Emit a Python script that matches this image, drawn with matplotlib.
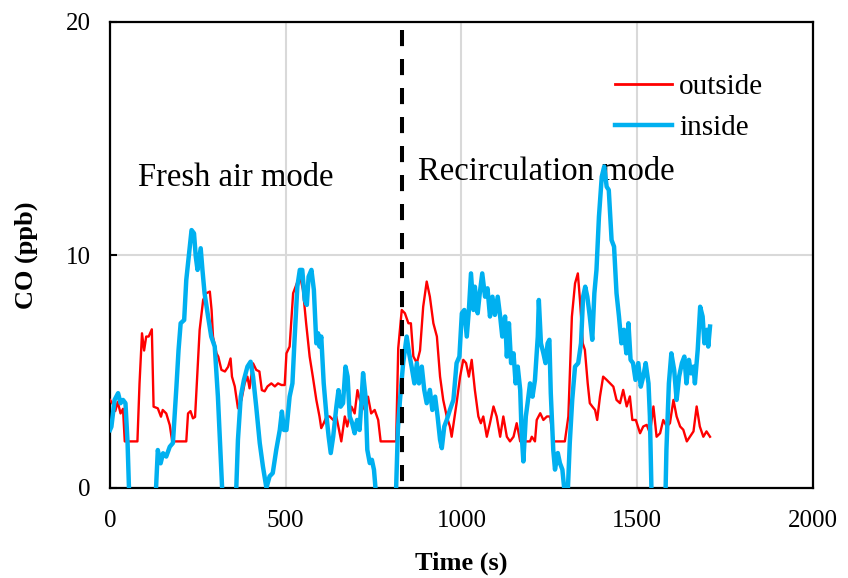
import matplotlib
matplotlib.use("Agg")
import matplotlib.pyplot as plt

# ---- data ----
out_t = [0,8,15,22,30,37,42,78,84,91,97,103,110,119,124,136,145,150,160,170,175,177,217,222,229,236,242,248,255,265,274,284,289,293,303,308,317,327,336,343,347,355,364,374,383,391,397,407,416,425,432,440,448,459,469,478,488,497,502,511,521,530,540,549,558,568,577,587,596,601,608,616,625,635,644,658,668,675,687,696,704,711,725,734,743,753,763,770,814,820,830,839,849,856,863,873,882,891,901,910,920,930,939,948,958,967,972,979,986,996,1005,1013,1021,1029,1038,1048,1055,1062,1072,1081,1091,1100,1110,1119,1129,1138,1148,1157,1167,1195,1200,1209,1214,1224,1233,1243,1252,1262,1294,1304,1314,1323,1331,1337,1345,1351,1359,1365,1372,1380,1386,1394,1403,1413,1422,1432,1441,1451,1460,1470,1479,1486,1496,1508,1517,1527,1536,1546,1555,1565,1574,1584,1593,1603,1612,1622,1631,1641,1650,1660,1669,1678,1688,1697,1707]
out_co = [3.78,3.6,3.3,3.7,3.2,3.4,2.0,2.0,4.49,6.64,5.9,6.5,6.5,6.81,3.49,3.42,3.06,3.35,3.2,2.7,2.2,2.0,2.0,3.2,3.3,2.99,3.05,4.78,6.78,8.07,8.36,8.43,7.64,6.5,5.78,5.64,5.07,5.0,5.2,5.56,4.78,4.36,3.42,3.78,4.49,4.78,4.28,5.35,5.07,5.0,4.2,4.15,4.36,4.49,4.36,4.49,4.42,4.42,5.78,6.07,8.36,8.72,9.14,8.5,7.07,5.64,4.78,3.78,3.07,2.57,2.78,3.07,3.07,2.92,3.07,2.0,3.07,2.64,3.49,3.2,4.2,3.78,3.35,3.92,3.2,3.35,2.92,2.0,2.0,6.0,7.64,7.5,7.07,7.07,5.65,5.36,5.9,7.78,8.86,8.21,7.07,6.5,4.78,3.78,3.07,2.64,2.2,2.92,3.64,4.78,5.5,5.36,4.78,5.5,4.21,3.07,2.78,3.07,2.2,2.78,3.5,3.07,2.2,3.07,2.2,2.0,2.2,2.78,2.0,2.0,2.2,2.0,2.92,3.21,2.92,3.07,3.07,2.0,2.0,3.07,7.35,8.78,9.21,8.07,6.21,5.93,4.5,3.64,3.5,3.35,2.92,3.93,4.78,4.64,4.5,4.35,3.78,3.64,4.21,3.5,3.93,2.92,2.92,2.35,2.64,2.71,2.35,3.5,2.2,2.35,2.92,2.64,2.78,3.78,3.07,2.64,2.5,2.0,2.2,2.43,3.5,2.64,2.2,2.43,2.2]

in_t = [0,4,13,23,30,37,44,50,56,125,131,136,144,151,160,170,179,189,195,201,211,217,224,232,239,244,249,258,263,269,279,288,298,307,317,322,357,364,372,381,391,400,407,416,426,435,445,454,463,473,483,489,495,502,511,519,525,533,540,547,554,560,565,573,580,587,592,596,601,608,616,622,628,635,644,650,656,663,670,676,682,689,696,703,710,715,720,727,732,739,745,751,758,812,819,825,834,844,851,858,866,873,879,887,894,901,910,917,925,932,939,944,951,958,967,977,986,994,1001,1008,1015,1021,1027,1034,1038,1046,1052,1059,1067,1074,1081,1088,1095,1103,1110,1116,1124,1129,1135,1141,1148,1154,1160,1167,1171,1176,1183,1188,1195,1202,1209,1217,1220,1226,1233,1239,1245,1250,1254,1261,1266,1274,1280,1287,1294,1302,1308,1315,1323,1332,1340,1346,1352,1358,1365,1372,1378,1384,1391,1399,1406,1413,1419,1427,1434,1441,1448,1455,1462,1469,1475,1481,1488,1495,1503,1510,1517,1524,1532,1536,1541,1580,1583,1590,1597,1605,1612,1619,1627,1634,1640,1647,1653,1660,1664,1672,1679,1686,1691,1698,1702,1707]
in_co = [2.49,2.63,3.78,4.07,3.64,3.78,3.64,1.93,-1,-1,0,1.63,1.06,1.49,1.35,1.77,1.93,4.35,5.92,7.07,7.21,8.93,9.93,11.07,10.93,9.93,9.36,10.29,9.36,8.36,7.36,6.5,6.07,3.92,0.64,-1,-1,2.07,3.92,4.64,5.21,5.42,4.78,3.49,1.93,0.93,0.0,0.5,0.64,1.64,2.49,3.28,2.49,2.49,3.92,4.49,6.35,8.65,9.36,9.36,8.07,7.86,9.07,9.36,8.5,6.21,6.64,6.07,6.5,4.49,3.07,2.21,1.5,2.21,3.49,4.2,3.49,3.64,5.21,4.78,3.07,2.78,2.35,2.92,2.49,3.64,4.93,3.92,1.64,1.07,1.21,0.78,-0.5,-1,2.5,3.78,5.36,6.5,5.78,5.21,4.49,5.36,4.49,5.21,4.21,3.64,4.21,3.35,3.92,3.07,2.07,1.71,2.64,2.92,3.35,3.78,5.36,5.64,7.5,7.64,6.5,7.64,9.21,7.64,8.64,7.5,8.36,9.21,8.21,8.57,7.36,8.21,7.43,8.21,7.36,6.5,7.36,5.64,7.07,5.36,5.78,4.49,5.21,4.21,2.35,1.14,3.07,3.64,4.49,3.92,4.64,6.5,8.07,6.21,5.78,5.36,6.21,6.36,4.07,1.64,0.79,1.5,1.07,0.79,-0.3,-0.3,1.93,3.78,5.21,5.36,6.21,8.21,8.64,8.21,7.36,6.36,8.36,9.36,11.64,13.36,13.8,12.93,12.79,10.64,10.36,8.36,7.36,6.21,6.79,5.78,7.07,5.5,5.36,4.64,5.36,4.35,4.78,5.36,4.49,3.07,-0.5,-0.5,1.64,4.49,5.78,5.07,3.78,4.78,5.36,5.64,4.49,5.5,4.92,5.21,4.49,5.93,7.78,7.36,6.21,6.79,6.07,6.93]

switch_time = 830
x_ticks = [0, 500, 1000, 1500, 2000]
y_ticks = [0, 10, 20]
series_labels = ["outside", "inside"]
mode_labels = ["Fresh air mode", "Recirculation mode"]

# ---- figure ----
plt.rcParams['font.family'] = ['Liberation Serif', 'DejaVu Serif']
fig = plt.figure(figsize=(8.48, 5.78), dpi=100)
ax = fig.add_axes([110/848, 1-488/578, (813-110)/848, (488-22)/578])

ax.set_xlim(0, 2000)
ax.set_ylim(0, 20)
ax.set_xticks(x_ticks)
ax.set_yticks(y_ticks)
ax.grid(True, color='#D9D9D9', linewidth=1.5, zorder=0)
ax.set_axisbelow(True)

ax.plot(out_t, out_co, color='#FF0000', linewidth=1.7, label=series_labels[0], zorder=3)
ax.plot(in_t, in_co, color='#00B0F0', linewidth=3.2, label=series_labels[1], zorder=4)

ax.plot([switch_time, switch_time], [19.66, -0.15], color='black', linewidth=2.9,
        dashes=(4.0, 3.2), clip_on=False, zorder=5)

for s in ax.spines.values():
    s.set_linewidth(1.6)
    s.set_color('black')

ax.tick_params(axis='y', direction='in', length=5, width=1.5, pad=14, labelsize=18)
ax.tick_params(axis='x', length=0, pad=16, labelsize=18)

ax.set_xlabel("Time (s)", fontsize=19, fontweight='bold', labelpad=14)
ax.set_ylabel("CO (ppb)", fontsize=19, fontweight='bold', labelpad=20)

ax.text(80, 13.3, mode_labels[0], fontsize=23.5, va='center', ha='left')
ax.text(876, 13.56, mode_labels[1], fontsize=23.5, va='center', ha='left')

leg = ax.legend(loc='upper left', bbox_to_anchor=((615-110)/703, 1-(74-22)/466),
                frameon=False, fontsize=21, handlelength=1.95, handletextpad=0.25,
                labelspacing=0.5, borderpad=0, borderaxespad=0)
leg.get_lines()[0].set_linewidth(2.0)
leg.get_lines()[1].set_linewidth(3.2)

fig.savefig("out.png", dpi=100)
